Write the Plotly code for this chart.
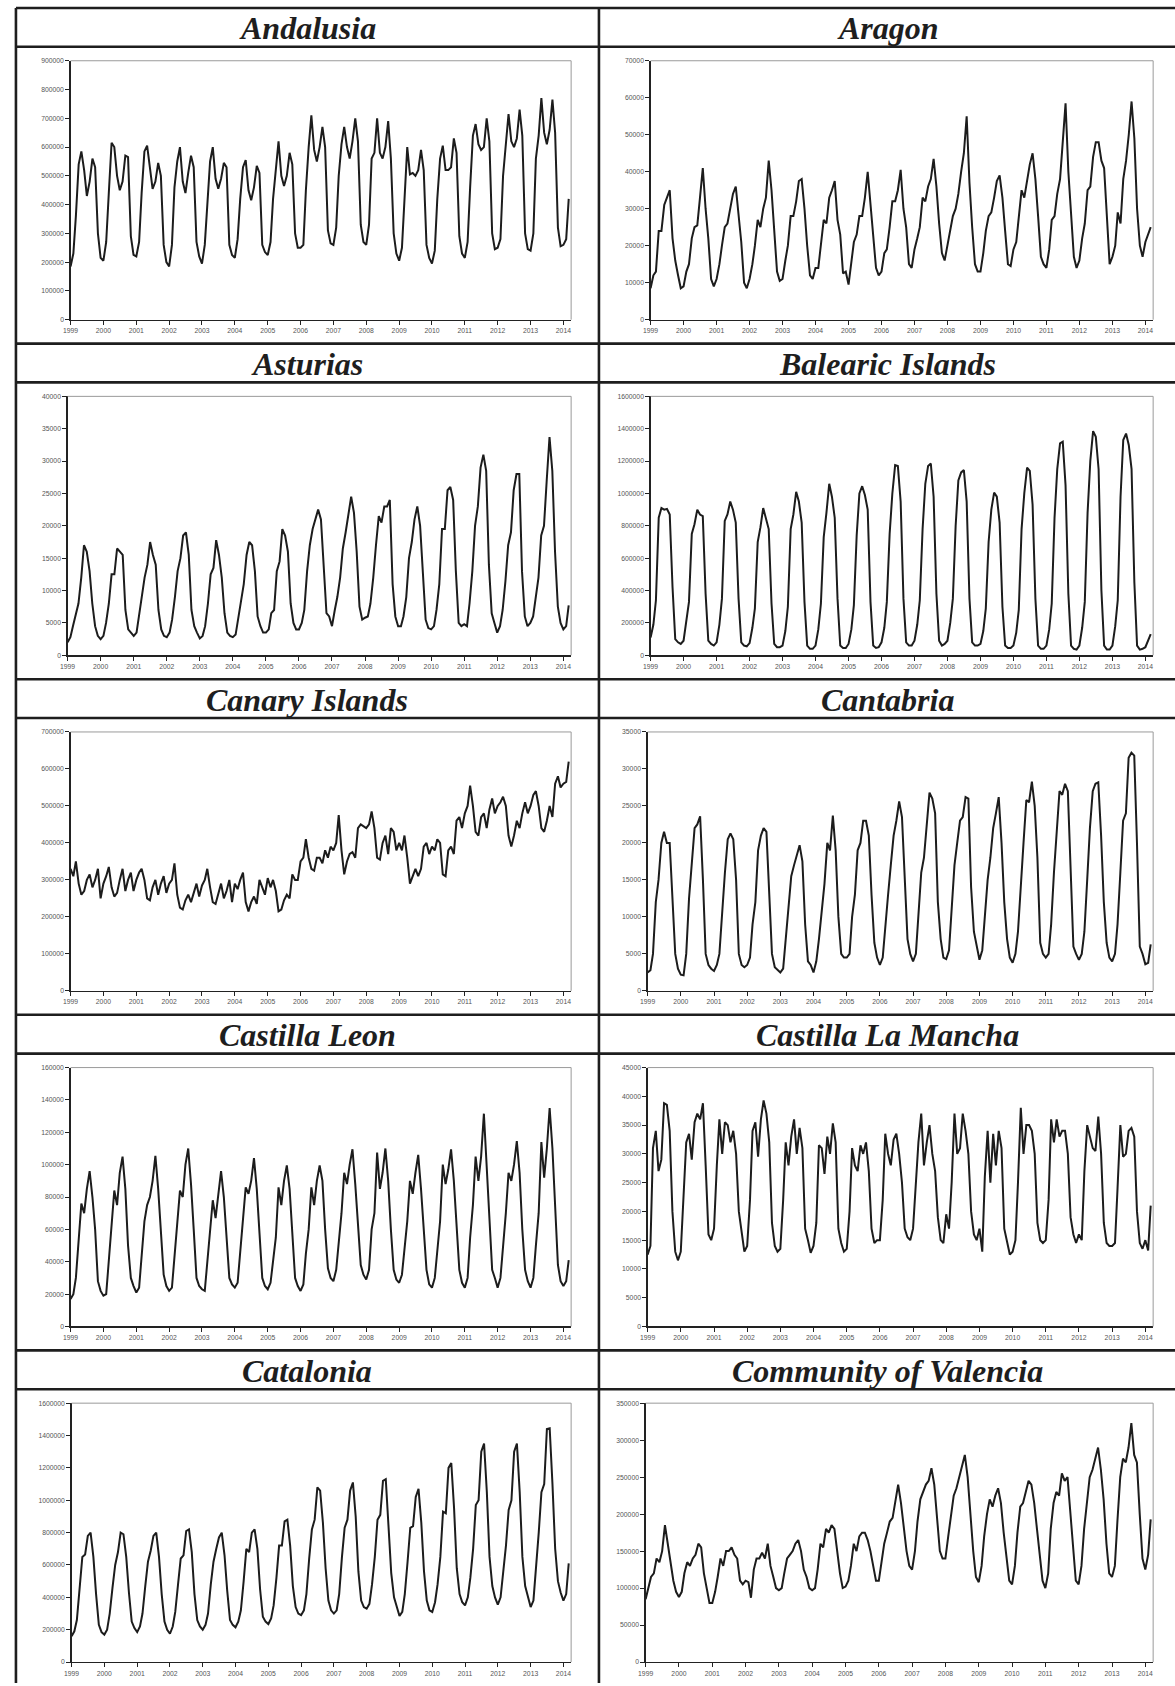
import plotly.graph_objects as go
import pandas as pd

# ---------------- DATA (monthly, Jan 1999 - Mar 2014) ----------------
regions = ["Andalusia", "Aragon", "Asturias", "Balearic Islands", "Canary Islands",
           "Cantabria", "Castilla Leon", "Castilla La Mancha", "Catalonia", "Community of Valencia"]

andalusia = [
    185000, 230000, 360000, 540000, 585000, 520000, 430000, 480000, 560000, 530000, 300000, 215000,
    205000, 270000, 440000, 615000, 600000, 500000, 450000, 480000, 570000, 565000, 290000, 225000,
    220000, 270000, 440000, 585000, 605000, 520000, 455000, 480000, 545000, 500000, 260000, 200000,
    185000, 260000, 460000, 550000, 600000, 480000, 440000, 510000, 570000, 530000, 270000, 220000,
    195000, 260000, 420000, 550000, 600000, 490000, 455000, 490000, 545000, 530000, 260000, 225000,
    215000, 280000, 420000, 530000, 555000, 450000, 415000, 460000, 535000, 510000, 260000, 235000,
    225000, 270000, 420000, 510000, 620000, 500000, 465000, 500000, 580000, 540000, 300000, 250000,
    250000, 260000, 450000, 600000, 710000, 590000, 550000, 600000, 670000, 600000, 310000, 265000,
    260000, 320000, 500000, 610000, 670000, 600000, 560000, 620000, 700000, 620000, 330000, 270000,
    260000, 330000, 560000, 580000, 700000, 580000, 560000, 600000, 690000, 560000, 300000, 230000,
    205000, 250000, 400000, 600000, 505000, 510000, 500000, 520000, 590000, 520000, 260000, 215000,
    195000, 240000, 420000, 560000, 605000, 520000, 520000, 530000, 630000, 580000, 290000, 230000,
    215000, 270000, 460000, 640000, 680000, 610000, 590000, 600000, 700000, 620000, 300000, 245000,
    250000, 280000, 500000, 600000, 715000, 620000, 600000, 630000, 730000, 640000, 300000, 245000,
    240000, 300000, 560000, 640000, 770000, 650000, 610000, 660000, 765000, 650000, 320000, 255000,
    260000, 280000, 420000]

aragon = [
    8500, 12000, 13000, 24000, 24000, 31000, 33000, 35000, 22000, 16000, 12000, 8500,
    9000, 13000, 15000, 22000, 25000, 25500, 33000, 41000, 30000, 22000, 11000, 9000,
    11000, 15000, 20000, 25000, 26000, 30000, 34000, 36000, 29000, 21000, 10000, 8500,
    11000, 15000, 20000, 27000, 25000, 30000, 33000, 43000, 35000, 23000, 13000, 10500,
    11000, 16000, 20000, 28000, 28000, 32000, 37500, 38000, 30000, 20000, 12000, 11000,
    14000, 14000, 20000, 27000, 26000, 33000, 35000, 37500, 27000, 23000, 12500, 13000,
    9500, 16000, 21000, 23000, 28000, 28000, 33000, 40000, 31000, 22000, 14000, 12000,
    13000, 18000, 19000, 25000, 32000, 32000, 35000, 40500, 30000, 25000, 15000, 14000,
    19000, 22000, 25000, 33000, 32000, 36000, 38000, 43500, 36000, 26000, 18000, 16000,
    20000, 25000, 28000, 30000, 34000, 40000, 45000, 55000, 37000, 25000, 15000, 13000,
    13000, 18000, 24000, 28000, 29000, 33000, 37500, 39000, 33000, 24000, 15000, 14500,
    19000, 21000, 28000, 35000, 33000, 38000, 42000, 45000, 38000, 28000, 17000, 15000,
    14000, 19000, 27000, 28000, 34000, 38000, 48000, 58500, 40000, 27000, 17000, 14000,
    16000, 22000, 26000, 35000, 36000, 44000, 48000, 48000, 43000, 41000, 28000, 15000,
    17000, 20000, 29000, 26000, 38000, 43000, 50000, 59000, 49000, 30000, 20000, 17000,
    21000, 23000, 25000]

asturias = [
    2000, 2800, 4500, 6500, 8000, 12000, 17000, 16000, 13000, 8000, 4500, 3000,
    2500, 3000, 5000, 8000, 12500, 12500, 16500, 16000, 15500, 7000, 4000, 3500,
    3000, 3500, 6000, 9500, 12000, 14000, 17500, 15500, 14000, 7000, 4000, 3000,
    2800, 3500, 5500, 9000, 13000, 15000, 18500, 19000, 15500, 7000, 4500, 3500,
    2600, 3000, 4500, 8000, 12500, 13500, 17800, 15500, 12000, 6500, 3500, 3000,
    2800, 3200, 5500, 8500, 11000, 15500, 17500, 17000, 13000, 6000, 4500, 3500,
    3500, 4000, 6500, 7000, 13000, 14500, 19500, 18500, 16000, 8000, 5000, 4000,
    4000, 5000, 7000, 13000, 17000, 19500, 21000, 22500, 21000, 14000, 6500, 6000,
    4500, 7000, 9000, 12000, 16500, 19000, 22000, 24500, 22000, 16000, 7500, 5500,
    5800, 6000, 8000, 12000, 17000, 21500, 20500, 23000, 23000, 24000, 11000, 6000,
    4500, 4500, 6000, 9000, 15000, 17500, 21000, 23000, 20000, 12000, 5500, 4200,
    4000, 4500, 7000, 11000, 19500, 19500, 25500, 26000, 24000, 13000, 5000, 4500,
    4800, 4500, 8000, 13000, 20000, 23000, 29000, 31000, 28500, 14000, 6500, 5000,
    3500, 4500, 7000, 11500, 17000, 19000, 25500, 28000, 28000, 13000, 6000, 4500,
    5000, 6000, 9000, 12000, 18500, 20000, 27000, 33700, 28500, 16000, 7500, 5000,
    4000, 4500, 7700]

balearic = [
    110000, 190000, 340000, 850000, 910000, 900000, 905000, 870000, 420000, 100000, 80000, 70000,
    90000, 200000, 330000, 750000, 810000, 900000, 870000, 860000, 380000, 90000, 70000, 60000,
    80000, 190000, 350000, 830000, 870000, 950000, 900000, 820000, 350000, 80000, 60000, 55000,
    75000, 170000, 290000, 700000, 790000, 910000, 850000, 780000, 320000, 70000, 50000, 50000,
    60000, 150000, 300000, 780000, 870000, 1010000, 950000, 820000, 330000, 60000, 40000, 40000,
    60000, 160000, 320000, 730000, 880000, 1060000, 980000, 850000, 350000, 60000, 45000, 45000,
    70000, 160000, 310000, 740000, 1000000, 1045000, 990000, 900000, 330000, 60000, 45000, 50000,
    80000, 170000, 330000, 750000, 1000000, 1175000, 1170000, 950000, 350000, 80000, 60000, 60000,
    90000, 190000, 340000, 780000, 1060000, 1170000, 1185000, 980000, 380000, 90000, 60000, 70000,
    90000, 200000, 350000, 800000, 1080000, 1130000, 1145000, 950000, 350000, 80000, 60000, 60000,
    70000, 150000, 290000, 700000, 900000, 1005000, 980000, 820000, 300000, 60000, 45000, 45000,
    60000, 140000, 280000, 780000, 1000000, 1160000, 1140000, 930000, 350000, 60000, 40000, 40000,
    60000, 160000, 320000, 850000, 1150000, 1310000, 1320000, 1050000, 380000, 60000, 40000, 35000,
    60000, 170000, 330000, 880000, 1200000, 1385000, 1350000, 1150000, 400000, 60000, 35000, 35000,
    60000, 180000, 340000, 980000, 1330000, 1370000, 1300000, 1150000, 450000, 60000, 35000, 40000,
    50000, 90000, 130000]

canary = [
    330000, 310000, 350000, 290000, 260000, 270000, 300000, 315000, 280000, 300000, 330000, 250000,
    290000, 310000, 335000, 280000, 255000, 265000, 300000, 330000, 270000, 300000, 320000, 270000,
    300000, 320000, 330000, 300000, 250000, 245000, 280000, 300000, 260000, 290000, 310000, 265000,
    290000, 300000, 345000, 260000, 225000, 220000, 245000, 260000, 240000, 265000, 290000, 255000,
    285000, 300000, 330000, 280000, 240000, 235000, 260000, 290000, 250000, 270000, 300000, 240000,
    290000, 275000, 300000, 320000, 240000, 215000, 240000, 255000, 235000, 300000, 280000, 260000,
    305000, 280000, 300000, 270000, 215000, 220000, 245000, 260000, 250000, 315000, 300000, 300000,
    350000, 360000, 410000, 360000, 330000, 325000, 360000, 360000, 345000, 380000, 360000, 390000,
    380000, 400000, 475000, 380000, 315000, 350000, 370000, 375000, 360000, 440000, 450000, 445000,
    440000, 450000, 485000, 440000, 360000, 355000, 400000, 420000, 370000, 440000, 430000, 380000,
    400000, 380000, 420000, 360000, 290000, 310000, 330000, 310000, 330000, 390000, 400000, 370000,
    390000, 380000, 410000, 400000, 315000, 310000, 380000, 390000, 370000, 460000, 470000, 440000,
    480000, 500000, 555000, 500000, 430000, 420000, 470000, 480000, 440000, 490000, 520000, 480000,
    500000, 510000, 525000, 500000, 420000, 390000, 420000, 460000, 440000, 480000, 510000, 480000,
    500000, 530000, 540000, 500000, 440000, 430000, 460000, 500000, 470000, 560000, 580000, 550000,
    560000, 565000, 620000]

cantabria = [
    2500, 2800, 5000, 12000, 15000, 20000, 21500, 20000, 20000, 12000, 5000, 3000,
    2200, 2100, 5000, 12500, 17000, 22000, 22500, 23600, 15000, 5000, 3500, 3000,
    2700, 3500, 5000, 11000, 16000, 20500, 21300, 20500, 15000, 5000, 3500, 3200,
    3500, 4500, 9000, 12000, 19000, 21000, 22000, 21500, 13000, 5000, 3200, 2800,
    2500, 3000, 7000, 11000, 15500, 17000, 18500, 19700, 17500, 9000, 4000, 3500,
    2500, 4000, 7000, 11000, 14500, 20000, 19000, 23700, 19000, 10000, 5000, 4500,
    4500, 5000, 10000, 13000, 19000, 20000, 23000, 23000, 21000, 13000, 6500, 4500,
    3500, 4500, 9000, 13000, 17000, 21000, 23000, 25600, 23500, 15000, 7000, 5000,
    4000, 5000, 10000, 16000, 18000, 22000, 26800, 26000, 24000, 12000, 7000, 4500,
    4300, 5500, 11000, 17000, 20000, 23000, 23500, 26200, 26000, 14000, 8000, 6000,
    4200, 5500, 9500, 15000, 18000, 22000, 24000, 26200, 20000, 12000, 7000, 4500,
    3800, 5000, 8000, 15000, 20000, 25800, 25500, 28300, 25000, 18000, 6500, 5000,
    4500, 5000, 9000, 16000, 21000, 27000, 26500, 28000, 27000, 17000, 6000, 5000,
    4200, 5000, 8000, 15000, 22000, 27000, 28000, 28200, 21000, 12000, 6500, 4500,
    4000, 5000, 9000, 16000, 23000, 24000, 31500, 32200, 31800, 20000, 6000, 5000,
    3600, 3800, 6300]

castilla_leon = [
    17000, 20000, 30000, 55000, 76000, 70000, 85000, 96000, 80000, 60000, 28000, 22000,
    19000, 20000, 40000, 60000, 84000, 75000, 95000, 105000, 85000, 50000, 30000, 25000,
    21000, 24000, 45000, 65000, 75000, 80000, 90000, 105500, 85000, 60000, 32000, 25000,
    22000, 24000, 42000, 60000, 84000, 80000, 100000, 110000, 88000, 60000, 30000, 25000,
    23000, 22000, 40000, 55000, 78000, 67000, 80000, 96000, 80000, 55000, 30000, 26000,
    24000, 27000, 45000, 65000, 86000, 82000, 90000, 104000, 85000, 58000, 30000, 25000,
    23000, 27000, 42000, 55000, 86000, 75000, 90000, 99500, 85000, 60000, 30000, 25000,
    22000, 26000, 45000, 60000, 86000, 75000, 90000, 99500, 90000, 60000, 36000, 30000,
    28000, 35000, 50000, 70000, 95000, 88000, 100000, 109500, 88000, 60000, 38000, 32000,
    29000, 35000, 60000, 70000, 107500, 85000, 95000, 110000, 90000, 60000, 35000, 29000,
    27000, 32000, 50000, 65000, 90000, 82000, 95000, 106000, 85000, 60000, 35000, 26000,
    24000, 30000, 45000, 65000, 100000, 88000, 97000, 109500, 90000, 60000, 35000, 27000,
    24000, 30000, 55000, 75000, 105000, 90000, 105000, 131500, 100000, 65000, 35000, 30000,
    24000, 30000, 48000, 70000, 95000, 90000, 100000, 114500, 95000, 60000, 35000, 28000,
    24000, 30000, 50000, 70000, 114000, 92000, 110000, 135000, 110000, 75000, 38000, 28000,
    25000, 28000, 41000]

castilla_la_mancha = [
    12500, 14000, 31000, 34000, 27000, 29000, 38800, 38500, 34000, 20000, 13000, 11500,
    13000, 22000, 32000, 33500, 29000, 35500, 37000, 36000, 38800, 28000, 16000, 15000,
    17000, 28000, 36000, 30000, 35500, 35000, 32000, 34000, 30000, 20000, 16000, 13000,
    14000, 22000, 34000, 35500, 29500, 36000, 39300, 37000, 32000, 18000, 14000, 13000,
    13500, 22000, 32000, 28000, 33000, 36000, 30000, 34500, 31000, 17000, 15000, 12800,
    14000, 18000, 31500, 31000, 26500, 33000, 30000, 35300, 32000, 17000, 14500, 13000,
    13500, 20000, 31000, 28000, 27000, 31500, 30000, 32000, 27000, 17000, 14500, 15000,
    15000, 22000, 33500, 30000, 28000, 32500, 33500, 30000, 25000, 17000, 15500, 15000,
    17000, 25000, 32000, 37000, 28000, 32000, 35000, 30000, 27000, 19000, 15000, 14500,
    19500, 17000, 25000, 37000, 30000, 31000, 37000, 34000, 30000, 20000, 16000, 15000,
    17000, 13000, 26000, 34000, 25000, 33500, 28000, 34000, 31000, 17000, 14500, 12500,
    13000, 15000, 25000, 38000, 30000, 35000, 35000, 34000, 30000, 18000, 15000, 14500,
    15000, 22000, 36000, 32000, 36000, 33000, 34000, 34000, 30000, 19000, 16000, 14500,
    16000, 15000, 27000, 35000, 33000, 31000, 30500, 36500, 30000, 18000, 14500, 14000,
    14000, 14500, 24000, 35000, 29500, 30000, 34000, 34500, 33000, 20000, 14500, 13500,
    15000, 13200, 21000]

catalonia = [
    160000, 190000, 260000, 450000, 650000, 665000, 780000, 800000, 650000, 420000, 230000, 185000,
    170000, 200000, 300000, 460000, 600000, 680000, 800000, 790000, 650000, 430000, 250000, 210000,
    185000, 220000, 300000, 470000, 620000, 690000, 780000, 800000, 650000, 420000, 250000, 200000,
    175000, 220000, 310000, 480000, 640000, 660000, 810000, 820000, 680000, 420000, 260000, 220000,
    200000, 230000, 300000, 480000, 620000, 700000, 770000, 800000, 660000, 440000, 260000, 230000,
    215000, 250000, 320000, 500000, 700000, 680000, 800000, 820000, 700000, 450000, 280000, 250000,
    235000, 270000, 350000, 520000, 720000, 720000, 870000, 880000, 720000, 470000, 340000, 300000,
    290000, 320000, 420000, 640000, 820000, 880000, 1080000, 1060000, 860000, 580000, 380000, 320000,
    300000, 320000, 420000, 650000, 830000, 880000, 1060000, 1110000, 900000, 560000, 380000, 340000,
    330000, 360000, 480000, 650000, 880000, 910000, 1120000, 1130000, 850000, 550000, 400000, 340000,
    285000, 310000, 420000, 620000, 830000, 840000, 1020000, 1070000, 860000, 560000, 380000, 320000,
    310000, 370000, 480000, 650000, 930000, 920000, 1200000, 1230000, 950000, 580000, 420000, 370000,
    350000, 400000, 520000, 700000, 970000, 1000000, 1300000, 1350000, 1050000, 650000, 470000, 400000,
    355000, 400000, 550000, 720000, 940000, 1000000, 1300000, 1350000, 1050000, 650000, 470000, 400000,
    340000, 380000, 560000, 800000, 1050000, 1100000, 1440000, 1445000, 1100000, 700000, 500000, 430000,
    380000, 420000, 610000]

valencia = [
    85000, 100000, 115000, 120000, 140000, 135000, 150000, 185000, 160000, 130000, 110000, 95000,
    88000, 95000, 120000, 135000, 130000, 140000, 145000, 160000, 155000, 120000, 100000, 80000,
    80000, 95000, 115000, 140000, 130000, 150000, 150000, 155000, 145000, 140000, 110000, 105000,
    110000, 108000, 87000, 125000, 140000, 140000, 148000, 140000, 160000, 130000, 115000, 100000,
    97000, 100000, 120000, 140000, 145000, 150000, 160000, 165000, 150000, 125000, 115000, 100000,
    97000, 100000, 125000, 160000, 155000, 180000, 175000, 185000, 180000, 150000, 120000, 100000,
    102000, 110000, 130000, 160000, 150000, 170000, 175000, 175000, 165000, 150000, 130000, 110000,
    110000, 135000, 160000, 175000, 190000, 195000, 220000, 240000, 215000, 180000, 150000, 130000,
    125000, 150000, 190000, 220000, 230000, 240000, 245000, 262000, 240000, 200000, 150000, 140000,
    140000, 170000, 200000, 225000, 235000, 250000, 265000, 280000, 250000, 200000, 150000, 115000,
    108000, 130000, 170000, 200000, 220000, 210000, 225000, 235000, 215000, 175000, 140000, 110000,
    105000, 130000, 175000, 210000, 215000, 230000, 245000, 240000, 215000, 180000, 140000, 110000,
    100000, 120000, 180000, 215000, 230000, 225000, 255000, 245000, 250000, 200000, 150000, 110000,
    105000, 130000, 180000, 220000, 250000, 260000, 275000, 290000, 260000, 220000, 160000, 120000,
    115000, 130000, 190000, 250000, 275000, 270000, 290000, 323000, 280000, 270000, 200000, 140000,
    125000, 145000, 193000]

series = [andalusia, aragon, asturias, balearic, canary,
          cantabria, castilla_leon, castilla_la_mancha, catalonia, valencia]
y_max = [900000, 70000, 40000, 1600000, 700000, 35000, 160000, 45000, 1600000, 350000]
y_step = [100000, 10000, 5000, 200000, 100000, 5000, 20000, 5000, 200000, 50000]
year_ticks = list(range(1999, 2015))

months = pd.date_range("1999-01-01", periods=len(andalusia), freq="MS")

# ---------------- LAYOUT (pixels) ----------------
W, H = 1175, 1686
TABLE_L, DIV, TOP = 8, 595, 4
ROW = 337
TITLE_H = 39
left_axis_x = [63, 647, 60, 647, 63, 644, 63, 644, 64, 642]
right_edge = [567, 1153]
PLOT_TOP_OFF = 53    # from row top
PLOT_BOT_OFF = 313   # zero line from row top

fig = go.Figure()
shapes = []
annotations = []

for k, (name, ys) in enumerate(zip(regions, series)):
    row, col = divmod(k, 2)
    rt = TOP + ROW * row
    x0 = left_axis_x[k]
    x1 = right_edge[col]
    y0 = rt + PLOT_TOP_OFF
    y1 = rt + PLOT_BOT_OFF
    ax = "" if k == 0 else str(k + 1)
    fig.add_trace(go.Scatter(x=months, y=ys, mode="lines",
                             line=dict(color="#1c1c1c", width=2),
                             xaxis="x" + ax, yaxis="y" + ax, showlegend=False,
                             hoverinfo="skip"))
    xa = dict(domain=[x0 / W, x1 / W], anchor="y" + ax,
              range=["1999-01-01", "2014-03-28"],
              tickvals=[pd.Timestamp(f"{y}-01-01") for y in year_ticks],
              ticktext=[str(y) for y in year_ticks],
              ticks="outside", ticklen=4, tickwidth=1, tickcolor="#222",
              showline=True, linecolor="#222", linewidth=1.3,
              showgrid=False, zeroline=False,
              tickfont=dict(family="Liberation Sans, Arial", size=6.8, color="#555"),
              fixedrange=True)
    ya = dict(domain=[1 - y1 / H, 1 - y0 / H], anchor="x" + ax,
              range=[0, y_max[k]], dtick=y_step[k], tick0=0, tickformat="d",
              ticks="outside", ticklen=4, tickwidth=1, tickcolor="#222",
              showline=True, linecolor="#222", linewidth=1.3,
              showgrid=False, zeroline=False,
              tickfont=dict(family="Liberation Sans, Arial", size=6.8, color="#555"),
              fixedrange=True)
    fig.update_layout(**{"xaxis" + ax: xa, "yaxis" + ax: ya})
    # gray frame top / right
    shapes.append(dict(type="line", xref="paper", yref="paper",
                       x0=x0 / W, x1=x1 / W, y0=1 - y0 / H, y1=1 - y0 / H,
                       line=dict(color="#9a9a9a", width=1)))
    shapes.append(dict(type="line", xref="paper", yref="paper",
                       x0=x1 / W, x1=x1 / W, y0=1 - y0 / H, y1=1 - y1 / H,
                       line=dict(color="#9a9a9a", width=1)))
    # title
    cx = (TABLE_L + DIV) / 2 if col == 0 else (DIV + W + 2) / 2
    annotations.append(dict(text=f"<b><i>{name}</i></b>", xref="paper", yref="paper",
                            x=cx / W, y=1 - (rt + TITLE_H / 2 + 1) / H,
                            xanchor="center", yanchor="middle", showarrow=False,
                            font=dict(family="Liberation Serif, Times New Roman, serif",
                                      size=32, color="#1e1e1e")))

# table grid lines
BORDER = dict(color="#1e1e1e", width=2.6)
for r in range(5):
    rt = TOP + ROW * r
    for yy in (rt, rt + TITLE_H):
        shapes.append(dict(type="line", xref="paper", yref="paper",
                           x0=TABLE_L / W, x1=1.0, y0=1 - yy / H, y1=1 - yy / H, line=BORDER))
for xx in (TABLE_L, DIV):
    shapes.append(dict(type="line", xref="paper", yref="paper",
                       x0=xx / W, x1=xx / W, y0=1 - TOP / H, y1=0, line=BORDER))

fig.update_layout(width=W, height=H, margin=dict(l=0, r=0, t=0, b=0),
                  paper_bgcolor="white", plot_bgcolor="white",
                  shapes=shapes, annotations=annotations, showlegend=False)

fig.write_html("out.html", config={"displayModeBar": False, "staticPlot": True},
               post_script="document.body.style.margin='0';document.body.style.overflow='hidden';")
